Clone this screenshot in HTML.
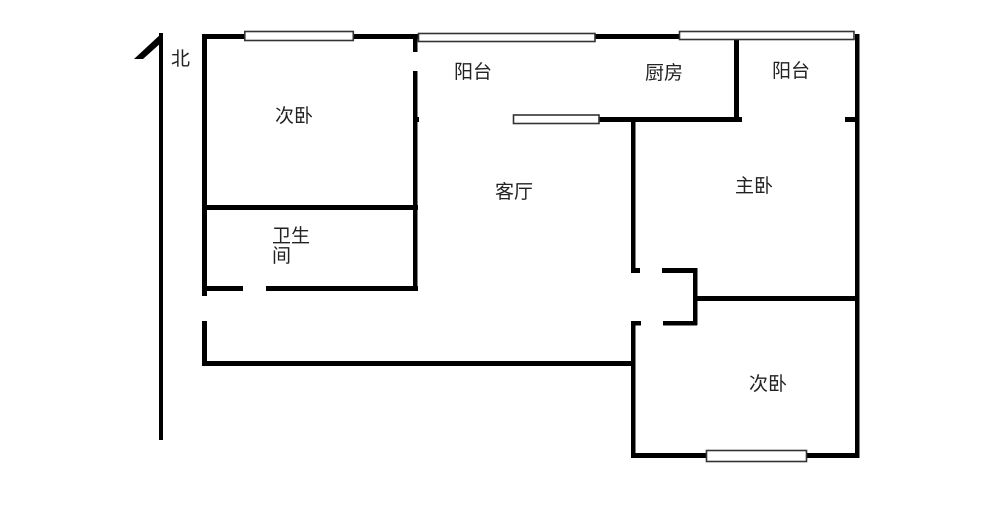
<!DOCTYPE html>
<html><head><meta charset="utf-8">
<style>
html,body{margin:0;padding:0;background:#fff;width:1000px;height:517px;overflow:hidden}
svg{display:block}
text{font-family:"Liberation Sans","Noto Sans CJK SC",sans-serif;font-size:19px;fill:#222;text-anchor:start}
.w{fill:#fff;stroke:#333;stroke-width:1.6}
</style></head><body>
<svg width="1000" height="517" viewBox="0 0 1000 517" xmlns="http://www.w3.org/2000/svg">
<rect width="1000" height="517" fill="#fff"/>
<g fill="#000">
<!-- north arrow -->
<rect x="159" y="33" width="4" height="407"/>
<polygon points="162,33 162,42 143,59 134,59"/>
<!-- top wall -->
<rect x="202" y="34" width="216" height="5"/>
<rect x="595" y="34" width="85" height="5"/>
<!-- left wall -->
<rect x="202" y="34" width="5" height="262"/>
<rect x="202" y="321" width="5" height="45"/>
<rect x="202" y="361" width="430" height="5"/>
<!-- inner left wall -->
<rect x="413" y="34" width="4.500" height="18"/>
<rect x="413" y="71" width="4.500" height="220"/>
<rect x="417" y="117" width="2" height="5"/>
<rect x="207" y="205" width="211" height="5"/>
<rect x="202" y="286" width="41" height="5"/>
<rect x="266" y="286" width="152" height="5"/>
<!-- kitchen -->
<rect x="599" y="117" width="143" height="5"/>
<rect x="734" y="38" width="5" height="84"/>
<!-- right -->
<rect x="855" y="34" width="4.500" height="424"/>
<rect x="845" y="117" width="10" height="5"/>
<!-- master -->
<rect x="631" y="120" width="4.500" height="153"/>
<rect x="631" y="268" width="9" height="5"/>
<rect x="662" y="268" width="35" height="5"/>
<rect x="693" y="268" width="4.500" height="57"/>
<rect x="693" y="296" width="164" height="5"/>
<rect x="663" y="321" width="34" height="4.500"/>
<rect x="631" y="321" width="10" height="4.500"/>
<rect x="631" y="321" width="4.500" height="137"/>
<rect x="631" y="453" width="228" height="5"/>
</g>
<!-- windows -->
<rect class="w" x="244.800" y="31.500" width="108.500" height="9"/>
<rect class="w" x="418.500" y="33.500" width="176.500" height="8"/>
<rect class="w" x="513.500" y="115" width="85.500" height="8.500"/>
<rect class="w" x="679.500" y="31.500" width="174.500" height="8"/>
<rect class="w" x="706.500" y="450.500" width="100" height="11"/>
<!-- labels -->
<text x="171" y="65">北</text>
<text x="275" y="122">次卧</text>
<text x="454" y="78">阳台</text>
<text x="645" y="79">厨房</text>
<text x="772" y="77">阳台</text>
<text x="495" y="198">客厅</text>
<text x="735" y="192">主卧</text>
<text x="272" y="242">卫生</text>
<text x="272" y="262">间</text>
<text x="749" y="390">次卧</text>
</svg>
</body></html>
